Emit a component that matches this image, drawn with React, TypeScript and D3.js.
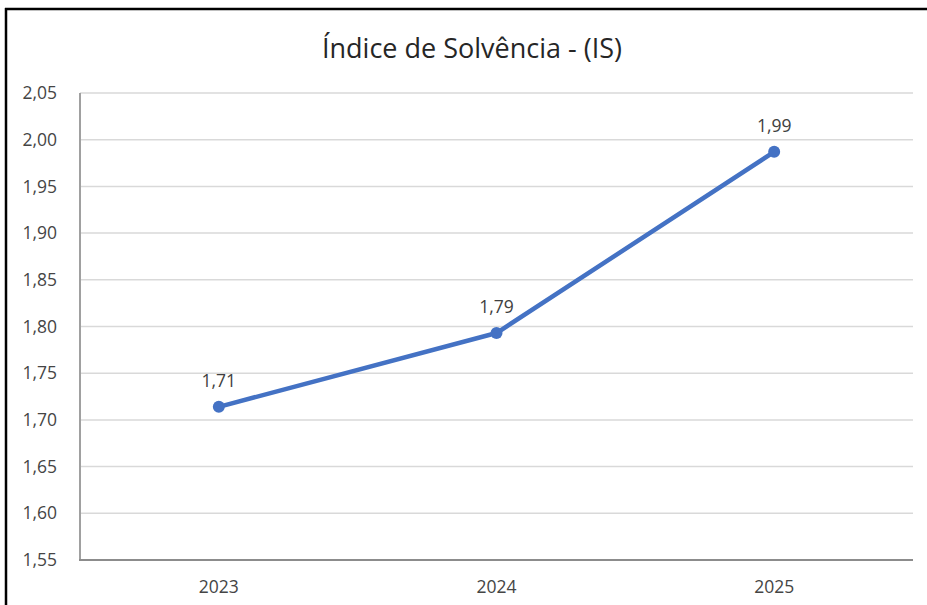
import React from "react";
import * as d3 from "d3";

const title = "Índice de Solvência - (IS)";
const years = ["2023", "2024", "2025"];
const values = [1.714, 1.793, 1.987];
const yTicks = [1.55, 1.6, 1.65, 1.7, 1.75, 1.8, 1.85, 1.9, 1.95, 2.0, 2.05];

const W = 927;
const H = 605;
const left = 80;
const right = 913;
const top = 93;
const bottom = 560;

export default function App() {
  const x = d3.scalePoint<string>().domain(years).range([left, right]).padding(0.5);
  const y = d3.scaleLinear().domain([1.55, 2.05]).range([bottom, top]);
  const fmt2 = (v: number) => v.toFixed(2).replace(".", ",");
  const line = d3
    .line<number>()
    .x((_, i) => x(years[i]) as number)
    .y((d) => y(d));
  const font = "'Open Sans', sans-serif";
  return (
    <svg
      width={W}
      height={H}
      style={{ position: "absolute", left: 0, top: 0, background: "#fff" }}
      fontFamily={font}
    >
      <rect x={0} y={0} width={W} height={H} fill="#fff" />
      <line x1={5} x2={W} y1={9} y2={9} stroke="#000" strokeWidth={2.5} />
      <line x1={6} x2={6} y1={8} y2={H} stroke="#000" strokeWidth={2.5} />
      <text x={472} y={58} textAnchor="middle" fontSize={27} fill="#262626">
        {title}
      </text>
      {yTicks.map((t) => (
        <g key={t}>
          {t > 1.56 && (
            <line x1={left} x2={right} y1={y(t)} y2={y(t)} stroke="#d9d9d9" strokeWidth={1.5} />
          )}
          <text x={57} y={y(t)} dy="0.35em" textAnchor="end" fontSize={17.5} fill="#454545">
            {fmt2(t)}
          </text>
        </g>
      ))}
      <line x1={left} x2={left} y1={top} y2={bottom} stroke="#a0a0a0" strokeWidth={2} />
      <line x1={left - 1} x2={right} y1={bottom} y2={bottom} stroke="#8c8c8c" strokeWidth={2} />
      {years.map((yr) => (
        <text key={yr} x={x(yr)} y={bottom + 33} textAnchor="middle" fontSize={17.5} fill="#454545">
          {yr}
        </text>
      ))}
      <path d={line(values) || ""} fill="none" stroke="#4472C4" strokeWidth={4.5} strokeLinejoin="round" />
      {values.map((v, i) => (
        <g key={i}>
          <circle cx={x(years[i])} cy={y(v)} r={6} fill="#4472C4" />
          <text x={x(years[i])} y={y(v) - 20} textAnchor="middle" fontSize={17.5} fill="#404040">
            {fmt2(v)}
          </text>
        </g>
      ))}
    </svg>
  );
}
